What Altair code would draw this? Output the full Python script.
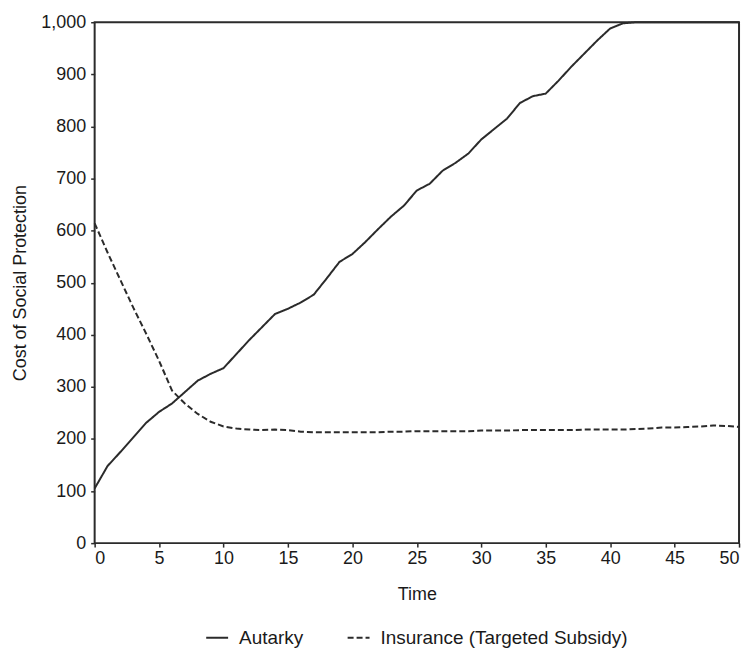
import altair as alt
import pandas as pd

time = list(range(0, 51))
autarky = [105, 148, 175, 203, 231, 252, 268, 290, 312, 325,
           336, 363, 390, 415, 440, 450, 462, 477, 508, 540,
           555, 578, 603, 627, 648, 677, 690, 715, 730, 748,
           775, 795, 815, 845, 858, 863, 888, 915, 940, 965,
           988, 998, 1000, 1000, 1000, 1000, 1000, 1000, 1000, 1000,
           1000]
insurance = [614, 558, 505, 452, 402, 350, 293, 268, 248, 233,
             224, 220, 218, 217, 218, 217, 214, 213, 213, 213,
             213, 213, 213, 214, 214, 215, 215, 215, 215, 215,
             216, 216, 216, 217, 217, 217, 217, 217, 218, 218,
             218, 218, 219, 220, 222, 222, 223, 224, 226, 225,
             223]
series_names = ["Autarky", "Insurance (Targeted Subsidy)"]
x_ticks = list(range(0, 51, 5))
y_ticks = list(range(0, 1001, 100))

rows = []
for t, a, i in zip(time, autarky, insurance):
    rows.append({"Time": t, "Value": a, "Series": series_names[0]})
    rows.append({"Time": t, "Value": i, "Series": series_names[1]})
df = pd.DataFrame(rows)

font = "Liberation Sans"
ink = "#2b2b2b"

chart = alt.Chart(df).mark_line(color=ink, strokeWidth=2).encode(
    x=alt.X("Time:Q",
            scale=alt.Scale(domain=[0, 50], nice=False),
            axis=alt.Axis(values=x_ticks, title="Time", grid=False,
                          tickSize=4, labelPadding=2, titlePadding=19,
                          domain=False)),
    y=alt.Y("Value:Q",
            scale=alt.Scale(domain=[0, 1000], nice=False),
            axis=alt.Axis(values=y_ticks, format=",.0f", title="Cost of Social Protection",
                          grid=False, tickSize=4, labelPadding=5, titlePadding=11,
                          domain=False)),
    strokeDash=alt.StrokeDash("Series:N",
                              scale=alt.Scale(domain=series_names, range=[[1, 0], [6, 3]]),
                              legend=alt.Legend(title=None, orient="none", direction="horizontal",
                                                legendX=111, legendY=606,
                                                symbolType="stroke", symbolSize=484,
                                                symbolStrokeWidth=2, symbolStrokeColor=ink,
                                                labelOffset=10, columnPadding=40,
                                                labelFontSize=19, labelLimit=0,
                                                labelFont=font, labelColor="#1a1a1a")),
    order="Time:Q",
).properties(
    width=647,
    height=523,
    padding={"left": 3, "top": 4, "right": 4, "bottom": 0},
).configure_view(
    stroke=ink, strokeWidth=2
).configure_axis(
    labelFont=font, labelFontSize=18, labelColor="#1a1a1a", labelLimit=0,
    titleFont=font, titleFontSize=18, titleColor="#1a1a1a", titleFontWeight="normal",
    tickColor=ink, tickWidth=1.5
)

chart.save("out.html", embed_options={"renderer": "svg", "actions": False})
